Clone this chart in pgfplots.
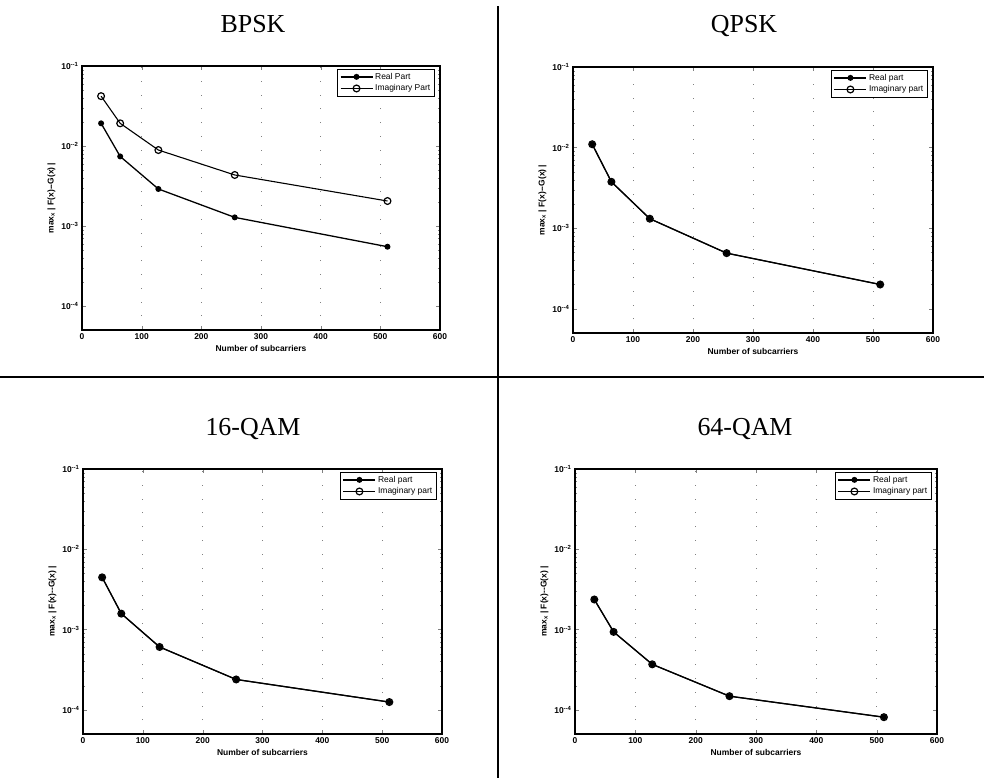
\documentclass[border=0pt]{standalone}
\usepackage{fontspec}
\setmainfont{Liberation Serif}
\newfontfamily\axfont{Liberation Sans}
\usepackage{pgfplots}
\pgfplotsset{compat=1.18}

\pgfplotsset{every axis/.append style={
  scale only axis,
  xmin=0, xmax=600, ymin=5e-5, ymax=1e-1,
  xtick={0,100,200,300,400,500,600},
  ytick={1e-4,1e-3,1e-2,1e-1},
  yticklabels={10\textsuperscript{--4},10\textsuperscript{--3},10\textsuperscript{--2},10\textsuperscript{--1}},
  /pgf/number format/assume math mode=true,
  tick align=inside, tick pos=both,
  major tick length=4bp, minor tick length=2bp,
  axis line style={line width=1.1bp},
  tick label style={font=\axfont\bfseries\fontsize{8.5}{9}\selectfont},
  label style={font=\axfont\bfseries\fontsize{8.5}{9}\selectfont},
  xlabel={Number of subcarriers},
  ylabel={max\textsubscript{x} | F(x)--G(x) |},
  xlabel style={yshift=1bp},
  ylabel style={yshift=-1bp},
  xmajorgrids,
  major grid style={black!50, line width=0.8bp, dash pattern=on 0.8bp off 13bp},
  legend style={at={(0.985,0.99)}, anchor=north east,
    font=\axfont\fontsize{8.5}{9}\selectfont, draw=black, line width=0.8bp,
    inner sep=2bp, row sep=0bp, cells={anchor=west}},
  legend image code/.code={\draw[mark repeat=2,mark phase=2,#1] plot coordinates {(0bp,0bp) (16bp,0bp) (32bp,0bp)};},
}}
\tikzset{realst/.style={black, line width=1.3bp, mark=*, mark size=2.3bp, mark options={solid}},
         imagst/.style={black, line width=1.1bp, mark=o, mark size=3.4bp, mark options={solid, line width=1.2bp}}}

\begin{document}
\begin{tikzpicture}
\useasboundingbox (0,0) rectangle (984bp,-778bp);
\fill[white] (0,0) rectangle (984bp,-778bp);

% dividers
\draw[black, line width=1.6bp] (0,-377bp) -- (984bp,-377bp);
\draw[black, line width=1.6bp] (498bp,-6bp) -- (498bp,-778bp);

% titles
\node[font=\fontsize{26}{30}\selectfont, anchor=base] at (253bp,-32bp) {BPSK};
\node[font=\fontsize{26}{30}\selectfont, anchor=base] at (744bp,-32bp) {QPSK};
\node[font=\fontsize{26}{30}\selectfont, anchor=base] at (253bp,-435bp) {16-QAM};
\node[font=\fontsize{26}{30}\selectfont, anchor=base] at (745bp,-435bp) {64-QAM};

% BPSK
\begin{semilogyaxis}[at={(82bp,-330bp)}, anchor=south west, width=358bp, height=264bp]
\addplot[realst] coordinates {(32,0.0192) (64,0.0074) (128,0.0029) (256,0.00128) (512,0.00055)};
\addplot[imagst] coordinates {(32,0.042) (64,0.0192) (128,0.0089) (256,0.00434) (512,0.00205)};
\legend{Real Part, Imaginary Part}
\end{semilogyaxis}

% QPSK
\begin{semilogyaxis}[at={(573bp,-333bp)}, anchor=south west, width=360bp, height=266bp]
\addplot[realst] coordinates {(32,0.011) (64,0.00376) (128,0.00131) (256,0.00049) (512,0.0002)};
\addplot[imagst] coordinates {(32,0.011) (64,0.00376) (128,0.00131) (256,0.00049) (512,0.0002)};
\legend{Real part, Imaginary part}
\end{semilogyaxis}

% 16-QAM
\begin{semilogyaxis}[at={(83bp,-734bp)}, anchor=south west, width=359bp, height=265bp]
\addplot[realst] coordinates {(32,0.00447) (64,0.00158) (128,0.000607) (256,0.000239) (512,0.000125)};
\addplot[imagst] coordinates {(32,0.00447) (64,0.00158) (128,0.000607) (256,0.000239) (512,0.000125)};
\legend{Real part, Imaginary part}
\end{semilogyaxis}

% 64-QAM
\begin{semilogyaxis}[at={(575bp,-734bp)}, anchor=south west, width=362bp, height=265bp]
\addplot[realst] coordinates {(32,0.00237) (64,0.000935) (128,0.000369) (256,0.000148) (512,0.000081)};
\addplot[imagst] coordinates {(32,0.00237) (64,0.000935) (128,0.000369) (256,0.000148) (512,0.000081)};
\legend{Real part, Imaginary part}
\end{semilogyaxis}
\end{tikzpicture}
\end{document}
